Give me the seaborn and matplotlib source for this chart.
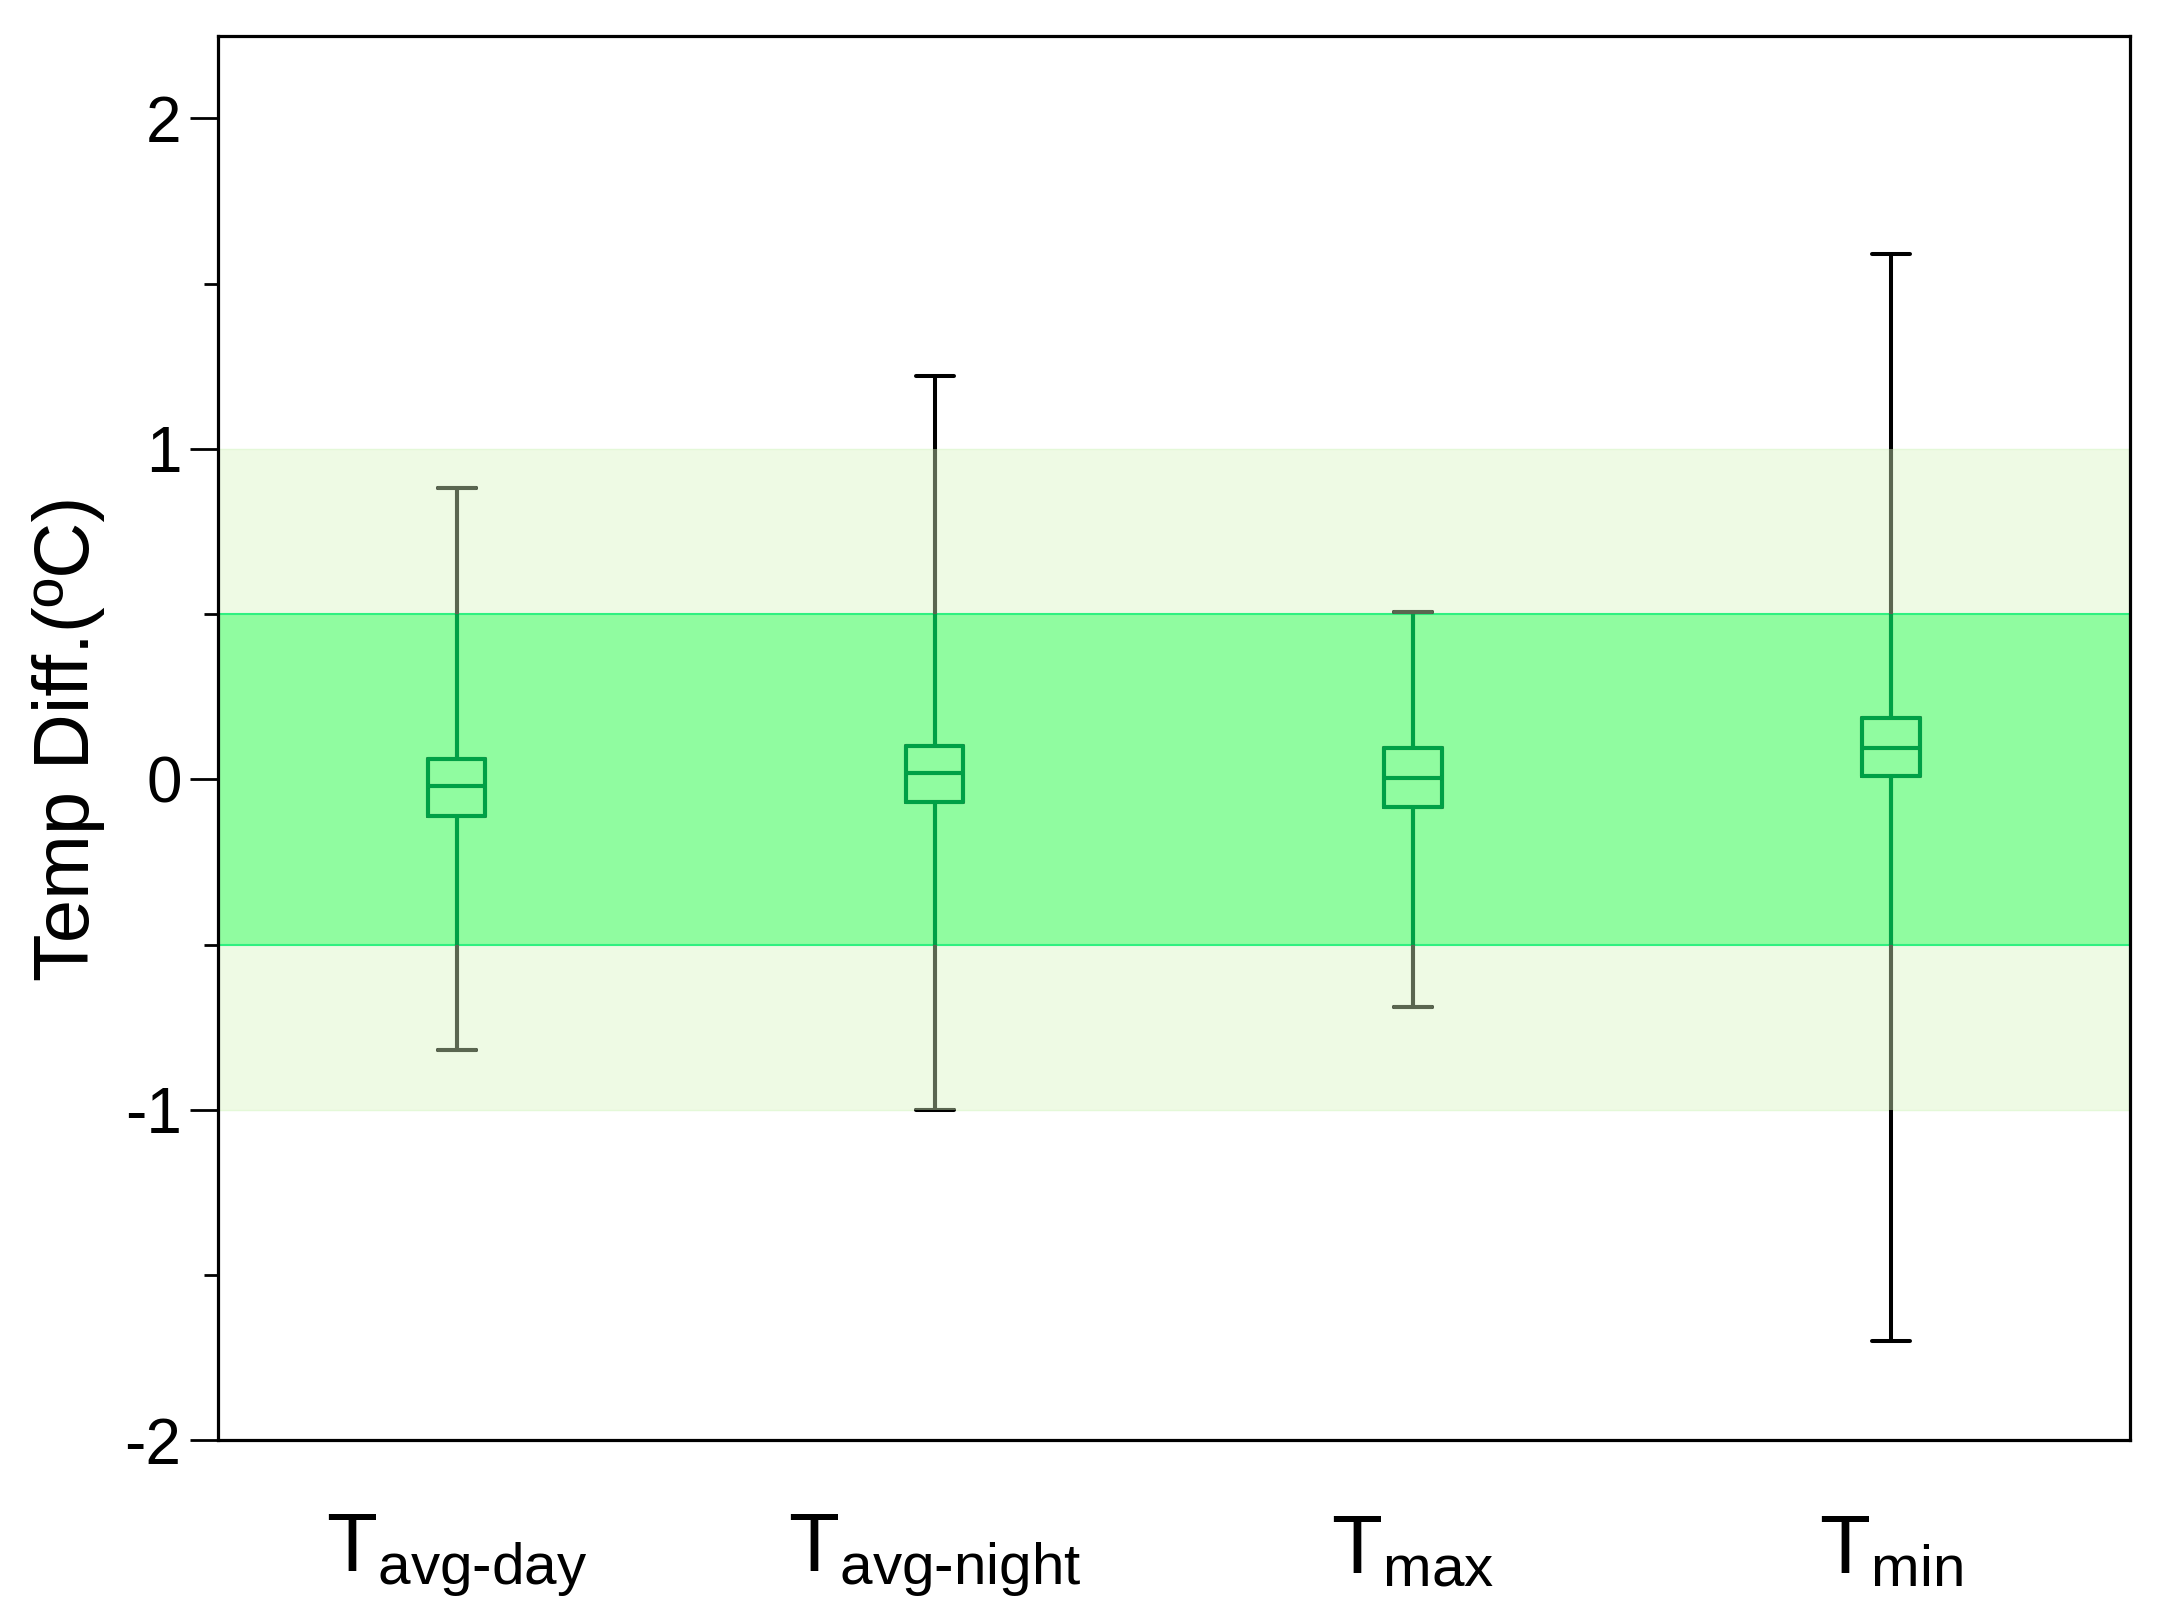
import numpy as np
import pandas as pd
import matplotlib
matplotlib.use("Agg")
import matplotlib.pyplot as plt
import seaborn as sns
from matplotlib.patches import Rectangle

# five-number summaries: min, q1, median, q3, max
categories = ["avg-day", "avg-night", "max", "min"]
mins = [-0.82, -1.00, -0.69, -1.70]
q1s = [-0.11, -0.07, -0.085, 0.01]
medians = [-0.02, 0.02, 0.005, 0.095]
q3s = [0.06, 0.10, 0.095, 0.185]
maxs = [0.88, 1.22, 0.505, 1.59]

tick_labels = [r"$\mathregular{T_{avg\text{-}day}}$",
               r"$\mathregular{T_{avg\text{-}night}}$",
               r"$\mathregular{T_{max}}$",
               r"$\mathregular{T_{min}}$"]

rows = []
for i, c in enumerate(categories):
    for v in [mins[i], q1s[i], medians[i], q3s[i], maxs[i]]:
        rows.append({"var": c, "val": v})
df = pd.DataFrame(rows)

sns.set_style("ticks")
plt.rcParams["font.family"] = ["Liberation Sans", "DejaVu Sans"]
plt.rcParams["mathtext.fontset"] = "custom"
plt.rcParams["mathtext.rm"] = "Liberation Sans"
plt.rcParams["text.color"] = "black"
plt.rcParams["axes.labelcolor"] = "black"
plt.rcParams["xtick.color"] = "black"
plt.rcParams["ytick.color"] = "black"

fig = plt.figure(figsize=(21.59, 16.22), dpi=100)
ax = fig.add_axes([0.1008, 0.112, 0.8858, 0.866])

# tolerance bands
ax.axhspan(-1, 1, facecolor="#eefae4", edgecolor="#e4f8d8", lw=1, zorder=0)
ax.axhspan(-0.5, 0.5, facecolor="#90fca0", edgecolor="#30f080", lw=1.5, zorder=0.5)


def draw_boxes(color, clip=None):
    n_lines, n_patches = len(ax.lines), len(ax.patches)
    sns.boxplot(data=df, x="var", y="val", order=categories, whis=(0, 100),
                width=0.12, fill=False, color=color, linewidth=2.9,
                showfliers=False, capwidths=0.08, ax=ax, zorder=3)
    if clip is not None:
        rect = Rectangle((-0.5, clip[0]), 4, clip[1] - clip[0],
                         transform=ax.transData)
        for art in ax.lines[n_lines:] + ax.patches[n_patches:]:
            art.set_clip_path(rect)


draw_boxes("black")
draw_boxes("#5a6650", clip=(-1, 1))
draw_boxes("#00a046", clip=(-0.5, 0.5))

ax.set_xlim(-0.5, 3.5)
ax.set_ylim(-2, 2.25)
ax.set_yticks([-2, -1, 0, 1, 2])
ax.set_yticks([-1.5, -0.5, 0.5, 1.5], minor=True)
ax.set_yticklabels(["-2", "-1", "0", "1", "2"])
ax.set_xticks(range(4))
ax.set_xticklabels(tick_labels, fontsize=60)
ax.set_xlabel("")
ax.set_ylabel("Temp Diff.(ºC)", fontsize=56, labelpad=14)

ax.tick_params(axis="y", which="major", direction="out", length=20, width=2,
               labelsize=46, pad=6)
ax.tick_params(axis="y", which="minor", direction="out", length=10, width=2)
ax.tick_params(axis="x", length=0, pad=52)
for s in ax.spines.values():
    s.set_visible(True)
    s.set_linewidth(2.3)
    s.set_color("black")
    s.set_zorder(5)

fig.savefig("out.png", dpi=100)
